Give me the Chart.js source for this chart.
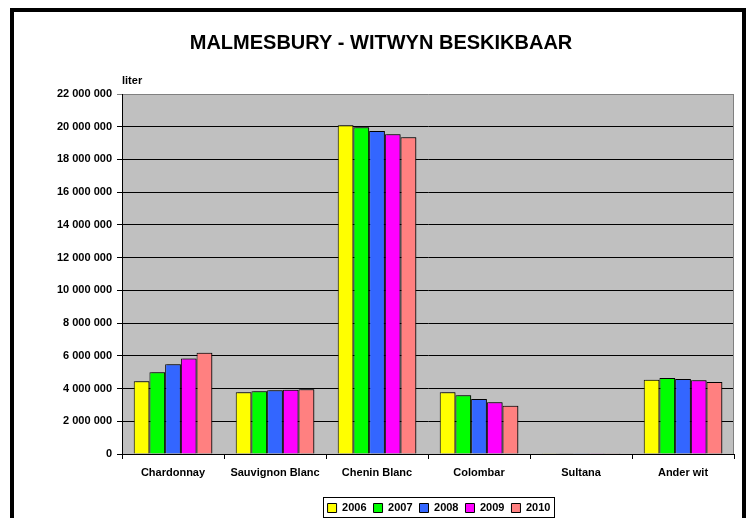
<!DOCTYPE html>
<html>
<head>
<meta charset="utf-8">
<title>Malmesbury - witwyn beskikbaar</title>
<script src="https://cdn.jsdelivr.net/npm/chart.js@4/dist/chart.umd.min.js"></script>
<style>
    html, body { margin: 0; padding: 0; background: #fff; overflow: hidden; }
    #wrap { position: relative; width: 752px; height: 518px; }
    #frame { position: absolute; left: 10px; top: 8px; width: 736px; height: 600px;
             border: 4px solid #000; box-sizing: border-box; pointer-events: none; }
    canvas { position: absolute; left: 0; top: 0; }
</style>
</head>
<body>
<div id="wrap">
    <canvas id="chart" width="752" height="518"></canvas>
    <div id="frame"></div>
</div>
<script>
// Chart data (liter)
const categories = ['Chardonnay', 'Sauvignon Blanc', 'Chenin Blanc', 'Colombar', 'Sultana', 'Ander wit'];
const years = ['2006', '2007', '2008', '2009', '2010'];
const values2006 = [4450000, 3770000, 20090000, 3770000, 50000, 4540000];
const values2007 = [5000000, 3830000, 19970000, 3590000, 20000, 4640000];
const values2008 = [5480000, 3890000, 19740000, 3360000, 15000, 4580000];
const values2009 = [5830000, 3930000, 19540000, 3160000, 12000, 4500000];
const values2010 = [6190000, 3950000, 19360000, 2950000, 10000, 4400000];
const yMax = 22000000;
const yStep = 2000000;

const seriesValues = [values2006, values2007, values2008, values2009, values2010];
const seriesColors = ['#ffff00', '#00ff00', '#3366ff', '#ff00ff', '#ff8080'];

const FONT = "'Liberation Sans', Arial, sans-serif";
Chart.defaults.color = '#000';
Chart.defaults.font.family = FONT;

function formatLiter(v) {
    return String(v).replace(/\B(?=(\d{3})+(?!\d))/g, ' ');
}

// grey plot background, right border, unit label, legend frame
const plotDecor = {
    id: 'plotDecor',
    beforeDraw(chart) {
        const a = chart.chartArea;
        const ctx = chart.ctx;
        ctx.save();
        ctx.fillStyle = '#c0c0c0';
        ctx.fillRect(a.left, a.top, a.right - a.left, a.bottom - a.top);
        ctx.restore();
    },
    afterLayout(chart) {
        // nudge title and legend to sit where the original has them
        chart.titleBlock.left += 14;
        chart.titleBlock.right += 14;
        chart.legend.left += 11;
        chart.legend.right += 11;
    },
    beforeDatasetDraw(chart) {
        const ctx = chart.ctx;
        ctx.save();
        ctx.shadowColor = 'rgba(0,0,0,0.45)';
        ctx.shadowOffsetX = 2;
        ctx.shadowOffsetY = 0;
        ctx.shadowBlur = 0;
    },
    afterDatasetDraw(chart) {
        chart.ctx.restore();
    },
    afterDraw(chart) {
        const a = chart.chartArea;
        const ctx = chart.ctx;
        ctx.save();
        ctx.strokeStyle = '#808080';
        ctx.lineWidth = 1;
        ctx.beginPath();
        ctx.moveTo(a.right - 0.5, a.top);
        ctx.lineTo(a.right - 0.5, a.bottom);
        ctx.stroke();

        ctx.fillStyle = '#000';
        ctx.font = 'bold 11px ' + FONT;
        ctx.textAlign = 'left';
        ctx.textBaseline = 'alphabetic';
        ctx.fillText('liter', a.left, a.top - 10);

        const boxes = chart.legend.legendHitBoxes;
        if (boxes && boxes.length) {
            const l = Math.min(...boxes.map(b => b.left)) - 5;
            const r = Math.max(...boxes.map(b => b.left + b.width)) + 3;
            ctx.strokeStyle = '#000';
            ctx.strokeRect(Math.round(l) + 0.5, 497.5, Math.round(r - l), 20);
        }
        ctx.restore();
    }
};

const ctx = document.getElementById('chart').getContext('2d');
new Chart(ctx, {
    type: 'bar',
    data: {
        labels: categories,
        datasets: years.map((y, i) => ({
            label: y,
            data: seriesValues[i],
            backgroundColor: seriesColors[i],
            borderColor: '#000',
            borderWidth: 1,
            categoryPercentage: 0.77,
            barPercentage: 1.0
        }))
    },
    options: {
        responsive: false,
        animation: false,
        devicePixelRatio: 1,
        layout: { padding: { left: 0, right: 18, top: 0, bottom: -5.5 } },
        plugins: {
            title: {
                display: true,
                text: 'MALMESBURY - WITWYN BESKIKBAAR',
                color: '#000',
                font: { size: 20, weight: 'bold', lineHeight: 1.2 },
                padding: { top: 31, bottom: 39 }
            },
            legend: {
                position: 'bottom',
                fullSize: false,
                labels: {
                    boxWidth: 9,
                    boxHeight: 9,
                    padding: 7,
                    color: '#000',
                    font: { size: 11, weight: 'bold' }
                }
            },
            tooltip: { enabled: false }
        },
        scales: {
            x: {
                grid: {
                    drawOnChartArea: false,
                    drawTicks: true,
                    tickLength: 5,
                    color: '#000'
                },
                border: { color: '#000', width: 1 },
                ticks: {
                    padding: 7,
                    maxRotation: 0,
                    autoSkip: false,
                    font: { size: 11, weight: 'bold' }
                },
                afterFit(scale) { scale.height = 41.5; }
            },
            y: {
                min: 0,
                max: yMax,
                grid: {
                    color: c => (c.tick && c.tick.value === yMax) ? '#808080' : '#000',
                    tickLength: 5,
                    lineWidth: 1
                },
                border: { color: '#000', width: 1 },
                ticks: {
                    stepSize: yStep,
                    padding: 5,
                    font: { size: 11, weight: 'bold' },
                    callback: v => formatLiter(v)
                },
                afterFit(scale) { scale.width = 122; }
            }
        }
    },
    plugins: [plotDecor]
});
</script>
</body>
</html>
